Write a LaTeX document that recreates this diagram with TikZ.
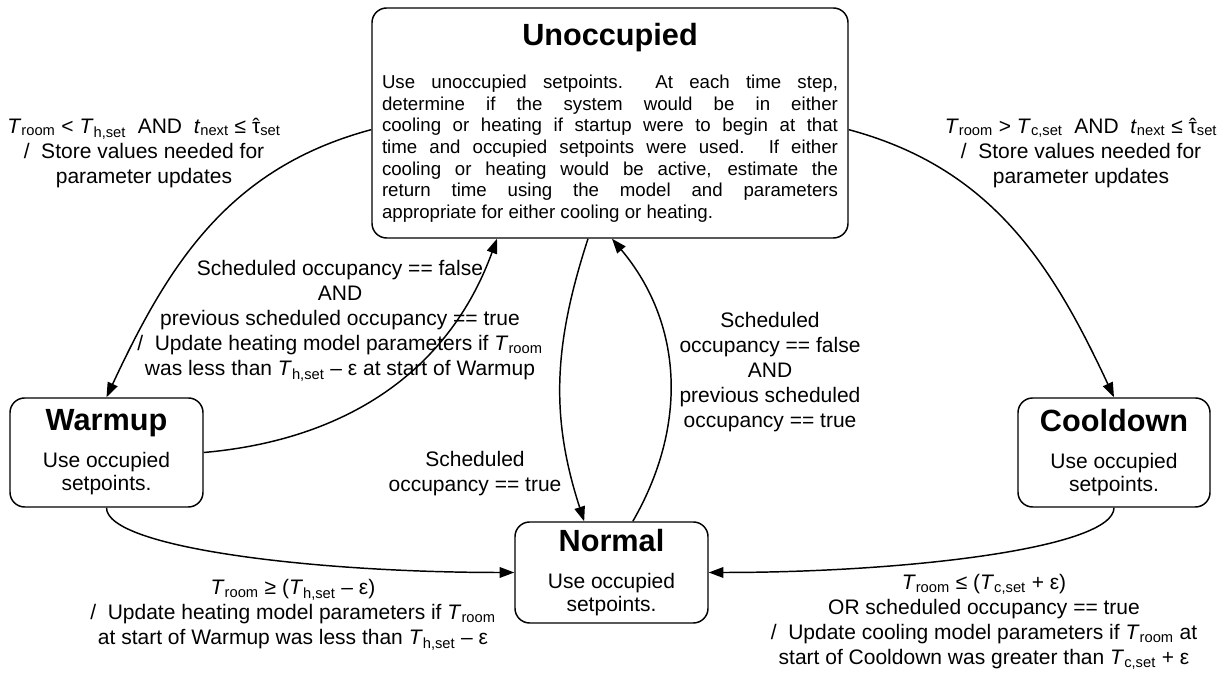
\documentclass[tikz,border=0pt]{standalone}
\usepackage{fontspec}
\setmainfont{Liberation Sans}
\usetikzlibrary{arrows.meta,positioning,calc}

\newcommand{\stateTitle}{\fontsize{23}{27}\selectfont\bfseries}
\newcommand{\stateText}{\fontsize{15.75}{17.25}\selectfont}
\newcommand{\unoccText}{\fontsize{14}{16.25}\selectfont}
\newcommand{\edgeText}{\fontsize{15.75}{18.75}\selectfont}
\newcommand{\Troom}{\textit{T}\textsubscript{room}}
\newcommand{\Thset}{\textit{T}\textsubscript{h,set}}
\newcommand{\Tcset}{\textit{T}\textsubscript{c,set}}
\newcommand{\tNext}{\textit{t}\textsubscript{next}}
\newcommand{\tauSet}{\ooalign{τ\cr\hidewidth ˆ\hidewidth\cr}\textsubscript{set}}

\tikzset{%
  stateBox/.style={%
    rectangle,
    rounded corners=11pt,
    draw=black,
    line width=1.1pt,
    align=center,
    inner sep=0pt
  },
  transArrow/.style={%
    -{Triangle[length=11pt,width=8pt]},
    line width=1.1pt
  },
  transLabel/.style={%
    align=center,
    font=\edgeText,
    inner sep=0pt
  }
}

\begin{document}
\begin{tikzpicture}[x=0.75pt,y=0.75pt]
  \useasboundingbox (0,0) rectangle (1222,674);

  % states
  \node[stateBox, font=\unoccText, minimum width=357pt, minimum height=172.5pt] (unocc) at (610,551)
    {{\stateTitle Unoccupied}\\[15.75pt]
     \parbox[t]{342pt}{\leftskip=0pt\rightskip=0pt\parfillskip=0pt plus 1fil
       \tolerance=9999\hyphenpenalty=10000
       Use unoccupied setpoints.\ \ At each time step,\linebreak
       determine if the system would be in either\linebreak
       cooling or heating if startup were to begin at that\linebreak
       time and occupied setpoints were used.\ \ If either\linebreak
       cooling or heating would be active, estimate the\linebreak
       return time using the model and parameters\linebreak
       appropriate for either cooling or heating.}};
  \node[stateBox, font=\stateText, minimum width=144.75pt, minimum height=81.75pt] (warmup) at (106.5,221.5)
    {{\stateTitle Warmup}\\[10.5pt]Use occupied\\setpoints.};
  \node[stateBox, font=\stateText, minimum width=144pt, minimum height=81.75pt] (cooldown) at (1114,221.5)
    {{\stateTitle Cooldown}\\[10.5pt]Use occupied\\setpoints.};
  \node[stateBox, font=\stateText, minimum width=144.75pt, minimum height=75.75pt] (normal) at (611.5,101.5)
    {{\stateTitle Normal}\\[10.5pt]Use occupied\\setpoints.};

  % transitions
  \draw[transArrow] ([yshift=-5pt]unocc.west) to[out=195,in=65] (warmup.north);
  \draw[transArrow] ([yshift=-5pt]unocc.east) to[out=-15,in=115] (cooldown.north);
  \draw[transArrow] (warmup.east) to[out=5,in=-110] ([xshift=-84.75pt]unocc.south);
  \draw[transArrow] ([xshift=-16.5pt]unocc.south) to[out=-108,in=108] ([xshift=-20.5pt]normal.north);
  \draw[transArrow] ([xshift=16pt]normal.north) to[out=60,in=-50] ([xshift=1.5pt]unocc.south);
  \draw[transArrow] (warmup.south) .. controls +(0,-40) and +(-200,0) .. (normal.west);
  \draw[transArrow] (cooldown.south) .. controls +(0,-40) and +(200,0) .. (normal.east);

  % labels
  \node[transLabel] (lblUnoccWarm) at (144,521)
    {\Troom{} < \Thset\ \ AND\ \ \tNext{} ≤ \tauSet\\/\ \ Store values needed for\\parameter updates};
  \node[transLabel] (lblUnoccCool) at (1081,521)
    {\Troom{} > \Tcset\ \ AND\ \ \tNext{} ≤ \tauSet\\/\ \ Store values needed for\\parameter updates};
  \node[transLabel] (lblWarmUnocc) at (340,353)
    {Scheduled occupancy == false\\AND\\previous scheduled occupancy == true\\/\ \ Update heating model parameters if \Troom\\was less than \Thset{} – ε at start of Warmup};
  \node[transLabel] (lblUnoccNorm) at (475,200)
    {Scheduled\\occupancy == true};
  \node[transLabel] (lblNormUnocc) at (770,302)
    {Scheduled\\occupancy == false\\AND\\previous scheduled\\occupancy == true};
  \node[transLabel] (lblWarmNorm) at (293,59)
    {\Troom{} ≥ (\Thset{} – ε)\\/\ \ Update heating model parameters if \Troom\\at start of Warmup was less than \Thset{} – ε};
  \node[transLabel] (lblCoolNorm) at (984,52)
    {\Troom{} ≤ (\Tcset{} + ε)\\OR scheduled occupancy == true\\/\ \ Update cooling model parameters if \Troom{} at\\start of Cooldown was greater than \Tcset{} + ε};
\end{tikzpicture}
\end{document}
